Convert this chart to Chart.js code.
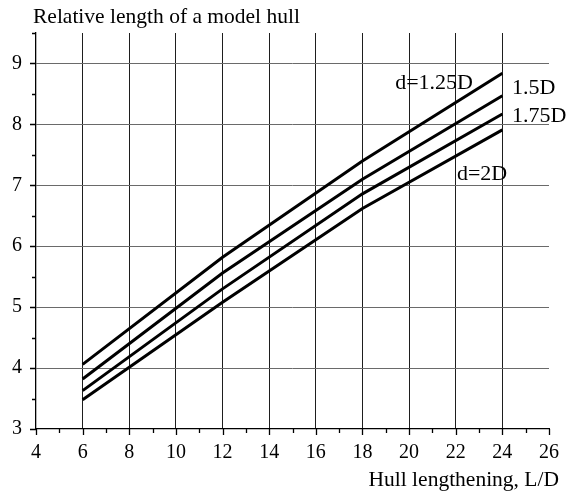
<!DOCTYPE html>
<html>
<head>
<meta charset="utf-8">
<script src="https://cdn.jsdelivr.net/npm/chart.js@4/dist/chart.umd.min.js"></script>
<style>
  html, body { margin: 0; padding: 0; background: #fff; }
  #wrap { width: 571px; height: 495px; position: relative; }
</style>
</head>
<body>
<div id="wrap"><canvas id="c" width="571" height="495"></canvas></div>
<script>
// Hull lengthening L/D (x) at which each curve is sampled
const lengthening = [6, 12, 18, 24];

// Relative length of a model hull for each diameter ratio
const d125 = [4.06, 5.82, 7.40, 8.84];
const d150 = [3.82, 5.56, 7.10, 8.47];
const d175 = [3.63, 5.30, 6.86, 8.17];
const d200 = [3.48, 5.08, 6.62, 7.91];

// Axis tick values
const xTicks = [4, 6, 8, 10, 12, 14, 16, 18, 20, 22, 24, 26];
const yTicks = [3, 4, 5, 6, 7, 8, 9];

// Curve captions and where they sit (in data units)
const captionText = ['d=1.25D', '1.5D', '1.75D', 'd=2D'];
const captionX = [22.74, 24.41, 24.41, 22.05];
const captionY = [8.67, 8.60, 8.14, 7.19];
const captionAlign = ['right', 'left', 'left', 'left'];

const FONT = "'Liberation Serif', 'Times New Roman', serif";

const toPoints = ys => ys.map((y, i) => ({ x: lengthening[i], y }));

const curveStyle = {
  borderColor: '#000',
  borderWidth: 3,
  pointRadius: 0,
  tension: 0,
  fill: false
};

// Tick marks (major + minor), axis titles and curve captions
const decorations = {
  id: 'decorations',
  afterDraw(chart) {
    const ctx = chart.ctx;
    const xs = chart.scales.x, ys = chart.scales.y;
    const area = chart.chartArea;
    ctx.save();
    ctx.strokeStyle = '#000';
    ctx.lineWidth = 1.3;
    ctx.beginPath();
    for (let v = 4; v <= 26; v += 1) {
      const px = Math.round(xs.getPixelForValue(v)) + 0.5;
      const len = v % 2 === 0 ? 6 : 4;
      ctx.moveTo(px, area.bottom);
      ctx.lineTo(px, area.bottom + len);
    }
    for (let v = 3; v <= 9.5; v += 0.5) {
      const py = Math.round(ys.getPixelForValue(v)) + 0.5;
      const len = v % 1 === 0 ? 6 : 4;
      ctx.moveTo(area.left, py);
      ctx.lineTo(area.left - len, py);
    }
    ctx.stroke();

    ctx.fillStyle = '#000';
    ctx.font = '21.5px ' + FONT;
    ctx.textBaseline = 'middle';
    ctx.textAlign = 'left';
    ctx.fillText('Relative length of a model hull', 33, 17);
    ctx.textAlign = 'right';
    ctx.fillText('Hull lengthening, L/D', 559, 480);

    ctx.font = '22px ' + FONT;
    captionText.forEach((t, i) => {
      ctx.textAlign = captionAlign[i];
      ctx.fillText(t, xs.getPixelForValue(captionX[i]), ys.getPixelForValue(captionY[i]));
    });
    ctx.restore();
  }
};

new Chart(document.getElementById('c'), {
  type: 'line',
  data: {
    datasets: [
      { label: 'd=1.25D', data: toPoints(d125), ...curveStyle },
      { label: '1.5D', data: toPoints(d150), ...curveStyle },
      { label: '1.75D', data: toPoints(d175), ...curveStyle },
      { label: 'd=2D', data: toPoints(d200), ...curveStyle }
    ]
  },
  options: {
    responsive: false,
    animation: false,
    devicePixelRatio: 1,
    layout: { padding: { top: 33, right: 22, left: 0, bottom: 0 } },
    plugins: { legend: { display: false }, tooltip: { enabled: false } },
    scales: {
      x: {
        type: 'linear',
        min: 4,
        max: 26,
        afterBuildTicks: s => { s.ticks = xTicks.map(value => ({ value })); },
        afterFit: s => { s.height = 66; },
        grid: {
          drawTicks: false,
          lineWidth: 1,
          color: c => (c.tick && (c.tick.value === 4 || c.tick.value === 26)) ? 'rgba(0,0,0,0)' : '#1e1e1e'
        },
        border: { display: true, color: '#000', width: 1.3 },
        ticks: {
          padding: 12,
          maxRotation: 0,
          autoSkip: false,
          color: '#000',
          font: { family: FONT, size: 20 }
        }
      },
      y: {
        type: 'linear',
        min: 3,
        max: 9.5,
        afterBuildTicks: s => { s.ticks = yTicks.map(value => ({ value })); },
        afterFit: s => { s.width = 36; },
        grid: {
          drawTicks: false,
          lineWidth: 1,
          color: c => (c.tick && c.tick.value === 3) ? 'rgba(0,0,0,0)' : '#6a6a6a'
        },
        border: { display: true, color: '#000', width: 1.3 },
        ticks: {
          padding: 14,
          autoSkip: false,
          color: '#000',
          font: { family: FONT, size: 20 }
        }
      }
    }
  },
  plugins: [decorations]
});
</script>
</body>
</html>
